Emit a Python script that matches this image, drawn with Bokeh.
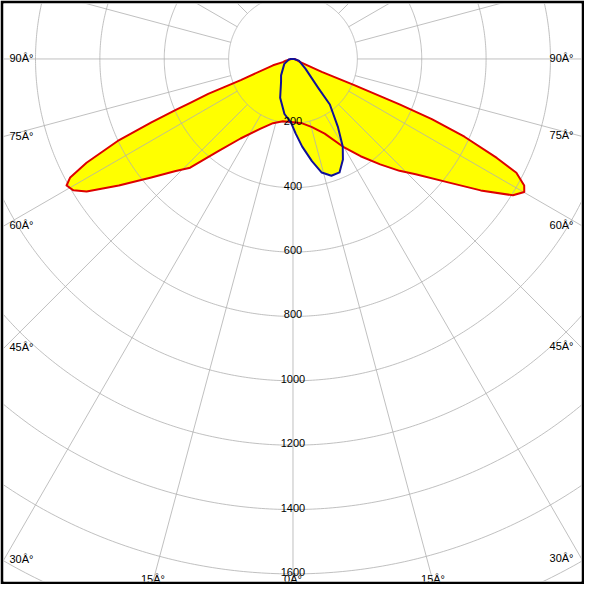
import numpy as np
from bokeh.plotting import figure
from bokeh.models import Range1d, ColumnDataSource
from bokeh.embed import file_html
from bokeh.resources import INLINE
from bokeh.core.properties import value

# ---------------- data ----------------
# red plane: signed gamma angle (deg, negative = left half) and intensity (cd), in path order
red_gamma = [-90, -77.2, -72.6, -72.4, -68.0, -67.6, -66.9, -66.5, -65.9, -65.0, -63.3, -62.0,
             -60.8, -59.1, -57.3, -54.0, -50.1, -46.3, -43.4, -39.1, -33.4, -25.2, -17.3, -9.3,
             0, 8.2, 15.6, 23.0, 29.6, 34.8, 39.6, 43.6, 46.8, 51.5, 55.0, 58.2, 60.1, 61.3,
             63.0, 64.1, 65.6, 66.6, 66.9, 66.9, 65.7, 66.3, 90]
red_cd = [5, 23, 33, 65, 175, 285, 347, 397, 482, 596, 718, 784,
          806, 795, 762, 669, 574, 504, 465, 370, 296, 240, 209, 196,
          197, 202, 220, 252, 313, 368, 425, 480, 523, 616, 712, 804, 829, 819,
          779, 704, 585, 470, 360, 205, 98, 25, 5]

# blue plane
blue_gamma = [-90, -60.4, -36.0, -27.6, -18.3, -8.8, -1.9, 2.1, 6.0, 10.5, 14.2, 18.2, 22.3,
              26.4, 29.6, 33.4, 39.0, 41.1, 52.0, 74.7, 90]
blue_cd = [11, 31, 63, 80, 127, 173, 197, 232, 274, 323, 364, 382, 381,
           349, 313, 254, 182, 120, 49, 19, 3]

ring_values = [200, 400, 600, 800, 1000, 1200, 1400, 1600, 1800, 2000, 2200]
ring_labels = ["200", "400", "600", "800", "1000", "1200", "1400", "1600"]
ray_step_deg = 15
angle_label_deg = [90, 75, 60, 45, 30, 15, 0]
angle_label_text = ["90Â°", "75Â°", "60Â°", "45Â°", "30Â°", "15Â°", "0Â°"]

# ---------------- geometry ----------------
CX, CY = 300.5, 60.0          # pole position in reference pixels
PX_PER_CD = 66.15 / 200.0     # reference pixel scale
IN0, IN1 = 3.0, 597.0         # inner frame (inside black border) in reference pixels

x0 = (IN0 - CX) / PX_PER_CD
x1 = (IN1 - CX) / PX_PER_CD
y1 = (CY - IN0) / PX_PER_CD
y0 = -(IN1 - CY) / PX_PER_CD


def polar(g_deg, r):
    g = np.radians(np.asarray(g_deg, dtype=float))
    r = np.asarray(r, dtype=float)
    return r * np.sin(g), -r * np.cos(g)


p = figure(width=584, height=584, x_range=Range1d(x0, x1), y_range=Range1d(y0, y1),
           output_backend="svg", toolbar_location=None,
           x_axis_type=None, y_axis_type=None, min_border=3,
           border_fill_color="black", background_fill_color="white",
           outline_line_color=None)

rx, ry = polar(red_gamma, red_cd)
bx, by = polar(blue_gamma, blue_cd)

# fills
p.patch(list(rx), list(ry), fill_color="#ffff00", line_color=None)
p.patch(list(bx), list(by), fill_color="#ffff00", line_color=None)

# grid: circles and rays
t = np.linspace(0, 2 * np.pi, 721)
cxs, cys = [], []
for rv in ring_values:
    cxs.append(list(rv * np.cos(t)))
    cys.append(list(rv * np.sin(t)))
p.multi_line(cxs, cys, line_color="#b0b0b0", line_alpha=0.8, line_width=1)

rxs, rys = [], []
for a in range(0, 360, ray_step_deg):
    xa, ya = polar([a, a], [ring_values[0], 3000])
    rxs.append(list(xa))
    rys.append(list(ya))
p.multi_line(rxs, rys, line_color="#b0b0b0", line_alpha=0.8, line_width=1)

# curves
p.line(list(rx) + [rx[0]], list(ry) + [ry[0]], line_color="#dd0000", line_width=2,
       line_join="round")
p.line(list(bx) + [bx[0]], list(by) + [by[0]], line_color="#101099", line_width=2,
       line_join="round")

FONT = value("Liberation Sans")
FS = "11px"

# ring labels
rl_y = [-float(v) for v in ring_values[:len(ring_labels)]]
p.text(x=[0.0] * len(ring_labels), y=rl_y, text=ring_labels, text_font=FONT,
       text_font_size=FS, text_align="center", text_baseline="alphabetic",
       y_offset=-2, text_color="black")

# angle labels at the ray exits from the frame
lx, ly, lt, la, lxo, lyo = [], [], [], [], [], []
for g, txt in zip(angle_label_deg, angle_label_text):
    sides = [-1, 1] if g != 0 else [1]
    for s in sides:
        dx = s * np.sin(np.radians(g))
        dy = -np.cos(np.radians(g))
        cands = []
        if dx < -1e-9:
            cands.append(("left", x0 / dx))
        if dx > 1e-9:
            cands.append(("right", x1 / dx))
        if dy < -1e-9:
            cands.append(("bottom", y0 / dy))
        side, tt = min(cands, key=lambda c: c[1])
        ex, ey = tt * dx, tt * dy
        lx.append(ex)
        ly.append(ey)
        lt.append(txt)
        if side == "left":
            la.append("left"); lxo.append(6); lyo.append(-1)
        elif side == "right":
            la.append("right"); lxo.append(-8); lyo.append(-1)
        else:
            la.append("center"); lxo.append(0); lyo.append(-3)

src = ColumnDataSource(dict(x=lx, y=ly, text=lt, align=la, xo=lxo, yo=lyo))
p.text(x="x", y="y", text="text", source=src, text_font=FONT, text_font_size=FS,
       text_align="align", text_baseline="alphabetic", x_offset="xo", y_offset="yo",
       text_color="black")

open("out.html", "w").write(file_html(p, INLINE))
